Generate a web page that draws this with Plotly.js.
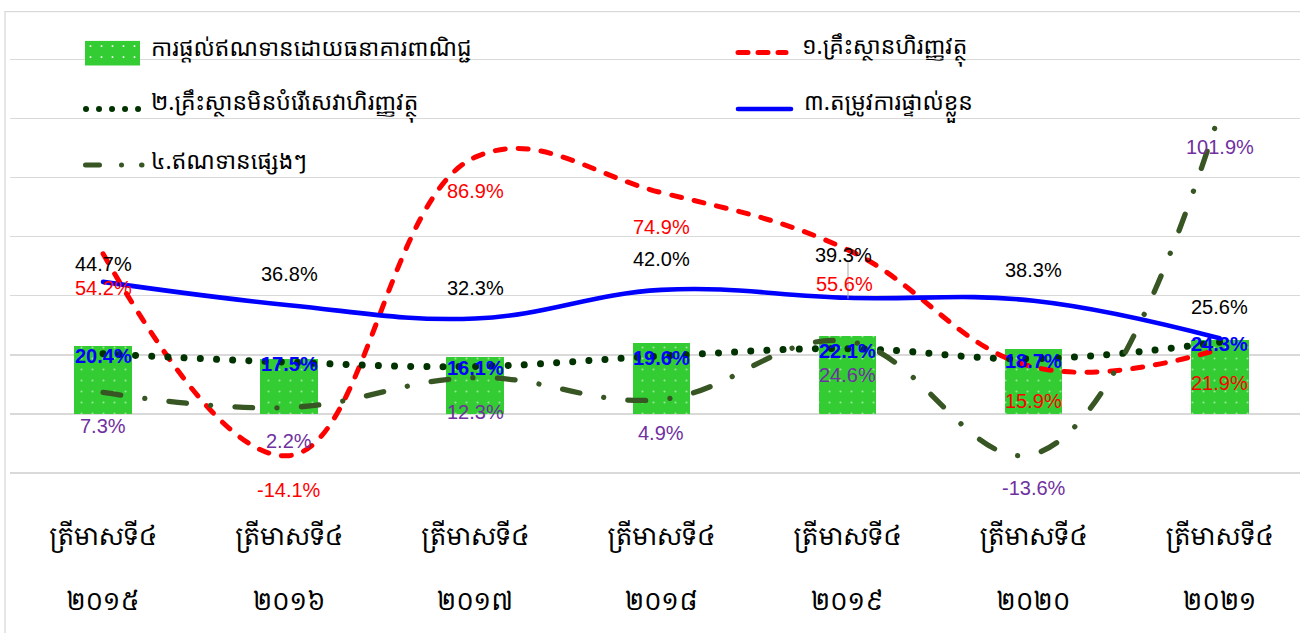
<!DOCTYPE html>
<html>
<head>
<meta charset="utf-8">
<script src="https://cdn.plot.ly/plotly-3.0.1.min.js"></script>
<style>
  body { margin: 0; background: #ffffff; }
  #chart { width: 1300px; height: 633px; }
  .scatterlayer .js-line, .shapelayer path { stroke-linecap: round; }
</style>
</head>
<body>
<div id="chart"></div>
<script>
// ---------- data ----------
const quarterLabels = ["ត្រីមាសទី៤", "ត្រីមាសទី៤", "ត្រីមាសទី៤", "ត្រីមាសទី៤", "ត្រីមាសទី៤", "ត្រីមាសទី៤", "ត្រីមាសទី៤"];
const yearLabels = ["២០១៥", "២០១៦", "២០១៧", "២០១៨", "២០១៩", "២០២០", "២០២១"];
const bankCredit = [23.0, 18.7, 19.4, 24.1, 26.3, 21.9, 24.9];
const financialInstitutions = [54.2, -14.1, 86.9, 74.9, 55.6, 15.9, 21.9];
const nonFinancialInstitutions = [20.4, 17.5, 16.1, 19.6, 22.1, 18.7, 24.3];
const personalNeeds = [44.7, 36.8, 32.3, 42.0, 39.3, 38.3, 25.6];
const otherCredit = [7.3, 2.2, 12.3, 4.9, 24.6, -13.6, 101.9];
const seriesNames = [
  "ការផ្តល់ឥណទានដោយធនាគារពាណិជ្ជ",
  "១.គ្រឹះស្ថានហិរញ្ញវត្ថុ",
  "២.គ្រឹះស្ថានមិនបំរើសេវាហិរញ្ញវត្ថុ",
  "៣.តម្រូវការផ្ទាល់ខ្លួន",
  "៤.ឥណទានផ្សេងៗ"
];

// ---------- layout constants ----------
const W = 1300, H = 633;
const M = { l: 10, r: 0, t: 12.1, b: 154.4 };
const plotW = W - M.l - M.r, plotH = H - M.t - M.b;
const px = v => (v - M.l) / plotW;          // pixel x -> paper
const py = v => 1 - (v - M.t) / plotH;      // pixel y -> paper

const categories = quarterLabels.map((q, i) => q + "<br><br>" + yearLabels[i]);

const khmerSerif = "'Noto Serif Khmer', 'Khmer OS Battambang', 'Noto Sans Khmer', sans-serif";
const khmerFont = "'Noto Sans Khmer', 'Khmer OS', 'Khmer OS Siemreap', sans-serif";
const numFont = "'Liberation Sans', Arial, sans-serif";

const colors = {
  bar: "#33CC33",
  red: "#FF0000",
  dotted: "#003300",
  blue: "#0000FF",
  dashdot: "#375623",
  purple: "#7030A0"
};

const traces = [
  {
    type: "bar", name: seriesNames[0], x: categories, y: bankCredit, width: 0.31,
    marker: { color: colors.bar, line: { width: 0 },
      pattern: { shape: ".", fillmode: "overlay", fgcolor: "#ffffff", size: 11, solidity: 0.03 } },
    hoverinfo: "skip", showlegend: false
  },
  {
    type: "scatter", mode: "lines", name: seriesNames[1], x: categories, y: financialInstitutions,
    line: { color: colors.red, width: 5, shape: "spline", smoothing: 1.15, dash: "10px,13px" },
    showlegend: false, cliponaxis: false
  },
  {
    type: "scatter", mode: "lines", name: seriesNames[2], x: categories, y: nonFinancialInstitutions,
    line: { color: colors.dotted, width: 7, shape: "spline", smoothing: 1.15, dash: "0.01px,16.2px" },
    showlegend: false, cliponaxis: false
  },
  {
    type: "scatter", mode: "lines", name: seriesNames[3], x: categories, y: personalNeeds,
    line: { color: colors.blue, width: 4.6, shape: "spline", smoothing: 1.15 },
    showlegend: false, cliponaxis: false
  },
  {
    type: "scatter", mode: "lines", name: seriesNames[4], x: categories, y: otherCredit,
    line: { color: colors.dashdot, width: 5.3, shape: "spline", smoothing: 1.15, dash: "17.7px,24.3px,0.01px,24.3px" },
    showlegend: false, cliponaxis: false
  }
];

// ---------- data labels (annotations built from the series) ----------
const labelSpecs = [
  { values: financialInstitutions, color: colors.red, bold: false, shift: [-34, -34, -34, -34, -34, -34, -34], dx: [0, 0, 0, 0, -3, 0, 0] },
  { values: nonFinancialInstitutions, color: colors.blue, bold: true, shift: [-2, -2, -2, -2, -2, -2, -2], dx: [0, 0, 0, 0, 0, 0, 0] },
  { values: personalNeeds, color: "#000000", bold: false, shift: [18, 31, 31, 31, 43, 31, 31], dx: [0, 0, 0, 0, -4, 0, 0] },
  { values: otherCredit, color: colors.purple, bold: false, shift: [-34, -34, -34, -34, -34, -34, -34], dx: [0, 0, 0, 0, 0, 0, 0] }
];
const annotations = [];
labelSpecs.forEach(spec => {
  spec.values.forEach((v, i) => {
    const t = v.toFixed(1) + "%";
    annotations.push({
      x: categories[i], y: v, xref: "x", yref: "y",
      text: spec.bold ? "<b>" + t + "</b>" : t, showarrow: false,
      xanchor: "center", yanchor: "middle",
      yshift: spec.shift[i], xshift: spec.dx[i],
      font: { family: numFont, size: 20, color: spec.color }
    });
  });
});

// ---------- manual legend ----------
const legendFont = { family: khmerFont, size: 23, color: "#000000" };
const legendText = [
  { name: seriesNames[0], x: 149, y: 47 },
  { name: seriesNames[1], x: 800, y: 48 },
  { name: seriesNames[2], x: 149, y: 104 },
  { name: seriesNames[3], x: 802, y: 104 },
  { name: seriesNames[4], x: 149, y: 160 }
];
legendText.forEach(t => {
  annotations.push({
    x: px(t.x), y: py(t.y), xref: "paper", yref: "paper",
    text: t.name, showarrow: false, xanchor: "left", yanchor: "middle",
    font: legendFont
  });
});

const shapes = [
  // chart border (left & top)
  { type: "line", xref: "paper", yref: "paper", x0: px(5), x1: px(5), y0: py(11.7), y1: py(640),
    line: { color: "#d9d9d9", width: 1.3 } },
  { type: "line", xref: "paper", yref: "paper", x0: px(5), x1: px(1310), y0: py(11.7), y1: py(11.7),
    line: { color: "#d9d9d9", width: 1.3 } },
  // legend symbols
  { type: "line", xref: "paper", yref: "paper", x0: px(738), x1: px(786), y0: py(52.5), y1: py(52.5),
    line: { color: colors.red, width: 5, dash: "10px,10px" } },
  { type: "line", xref: "paper", yref: "paper", x0: px(86), x1: px(139), y0: py(109), y1: py(109),
    line: { color: colors.dotted, width: 6, dash: "0.01px,13px" } },
  { type: "line", xref: "paper", yref: "paper", x0: px(738), x1: px(791), y0: py(109), y1: py(109),
    line: { color: colors.blue, width: 4.6 } },
  { type: "line", xref: "paper", yref: "paper", x0: px(85.5), x1: px(142), y0: py(165), y1: py(165),
    line: { color: colors.dashdot, width: 5, dash: "14px,22px,0.01px,20px" } },
  // small leader line at 2019 labels
  { type: "line", xref: "paper", yref: "paper", x0: px(848), x1: px(848), y0: py(262), y1: py(298),
    line: { color: "#a6a6a6", width: 1 } }
];

const swatchSvg = "<svg xmlns='http://www.w3.org/2000/svg' width='55' height='25'>" +
  "<defs><pattern id='p' width='11' height='11' patternUnits='userSpaceOnUse'>" +
  "<rect width='11' height='11' fill='#33CC33'/><circle cx='5.5' cy='5.5' r='1' fill='#ffffff'/></pattern></defs>" +
  "<rect width='55' height='25' fill='url(#p)'/></svg>";

const layout = {
  width: W, height: H,
  margin: M,
  paper_bgcolor: "#ffffff", plot_bgcolor: "#ffffff",
  showlegend: false,
  bargap: 0,
  xaxis: {
    type: "category",
    range: [-0.5, -0.5 + plotW / 186.1],
    showgrid: false, zeroline: false, showline: false, ticks: "",
    tickfont: { family: khmerSerif, size: 25, color: "#000000" },
    ticklabelstandoff: 40,
    fixedrange: true
  },
  yaxis: {
    range: [-22, 136], tickvals: [-20, 0, 20, 40, 60, 80, 100, 120],
    showgrid: true, gridcolor: "#d9d9d9", gridwidth: 1.3,
    zeroline: false, showline: false, showticklabels: false, ticks: "",
    fixedrange: true
  },
  annotations: annotations,
  shapes: shapes,
  images: [{
    source: "data:image/svg+xml;charset=utf-8," + encodeURIComponent(swatchSvg),
    xref: "paper", yref: "paper", x: px(85), y: py(40.7),
    sizex: px(140) - px(85), sizey: py(40.7) - py(65.7),
    xanchor: "left", yanchor: "top", sizing: "stretch", layer: "above"
  }]
};

Plotly.newPlot("chart", traces, layout, { displayModeBar: false, staticPlot: true });
</script>
</body>
</html>
